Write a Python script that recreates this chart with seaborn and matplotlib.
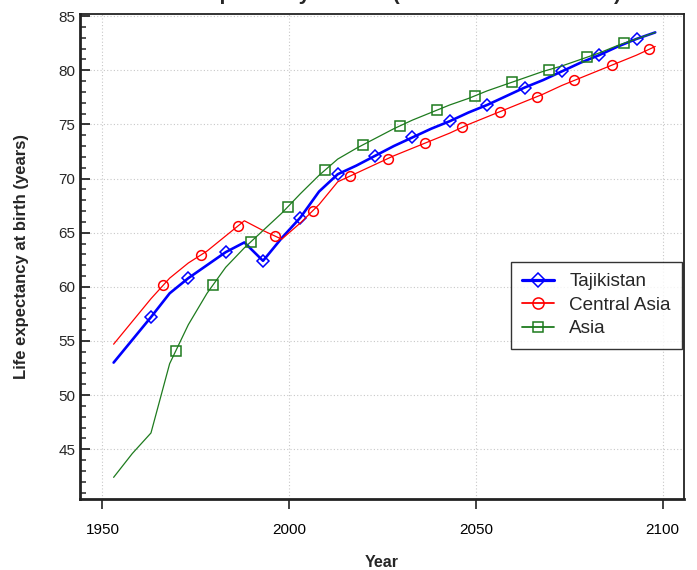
import numpy as np
import pandas as pd
import matplotlib
matplotlib.use("Agg")
import matplotlib.pyplot as plt
from matplotlib.lines import Line2D
from matplotlib.ticker import MultipleLocator
import seaborn as sns

# values, one point every 5 years
years = [1953, 1958, 1963, 1968, 1973, 1978, 1983, 1988, 1993, 1998,
         2003, 2008, 2013, 2018, 2023, 2028, 2033, 2038, 2043, 2048,
         2053, 2058, 2063, 2068, 2073, 2078, 2083, 2088, 2093, 2098]

tajikistan = [53.0, 55.1, 57.2, 59.4, 60.8, 62.0, 63.2, 64.1, 62.4, 64.5,
              66.4, 68.8, 70.4, 71.2, 72.1, 73.0, 73.8, 74.6, 75.3, 76.1,
              76.8, 77.6, 78.4, 79.1, 79.9, 80.7, 81.4, 82.2, 82.9, 83.5]

central_asia = [54.7, 56.8, 58.9, 60.8, 62.2, 63.3, 64.7, 66.1, 65.2, 64.4,
                65.9, 67.6, 69.7, 70.5, 71.3, 72.1, 72.8, 73.5, 74.2, 75.0,
                75.7, 76.4, 77.1, 77.8, 78.6, 79.3, 80.0, 80.7, 81.4, 82.2]

asia = [42.4, 44.6, 46.5, 52.9, 56.5, 59.4, 61.8, 63.6, 65.2, 66.8,
        68.6, 70.3, 71.8, 72.8, 73.7, 74.6, 75.4, 76.1, 76.8, 77.4,
        78.1, 78.7, 79.3, 79.9, 80.4, 81.0, 81.6, 82.3, 82.9, 83.5]

series_names = ["Tajikistan", "Central Asia", "Asia"]

df = pd.DataFrame({"Year": years, "Tajikistan": tajikistan,
                   "Central Asia": central_asia, "Asia": asia})

sns.set_theme(style="white")
plt.rcParams["font.family"] = ["Liberation Sans", "DejaVu Sans"]

fig = plt.figure(figsize=(6.97, 5.7), dpi=100)
ax = fig.add_axes([80 / 697, 1 - 499 / 570, 604 / 697, 485 / 570])

styles = {
    "Tajikistan": dict(color="#0000ff", lw=1.9, marker="D", ms=6.5, start=1963.0),
    "Central Asia": dict(color="#ff0000", lw=0.9, marker="o", ms=7, start=1966.33),
    "Asia": dict(color="#1e7b1e", lw=0.9, marker="s", ms=6.5, start=1969.67),
}

handles = []
for name in series_names:
    st = styles[name]
    sns.lineplot(data=df, x="Year", y=name, ax=ax, color=st["color"],
                 lw=st["lw"], legend=False)
    # open markers every 10 years along each line, staggered between series
    mx = np.arange(st["start"], years[-1], 10.0)
    my = np.interp(mx, df["Year"], df[name])
    ax.plot(mx, my, linestyle="none", marker=st["marker"], ms=st["ms"],
            mfc="none", mec=st["color"], mew=1.1)
    handles.append(Line2D([], [], color=st["color"], lw=st["lw"] + 0.4,
                          marker=st["marker"], ms=st["ms"] + 1, mfc="none",
                          mec=st["color"], mew=1.1))

ax.set_xlim(1944, 2105.7)
ax.set_ylim(40.4, 85.2)
ax.xaxis.set_major_locator(MultipleLocator(50))
ax.yaxis.set_major_locator(MultipleLocator(5))
ax.yaxis.set_minor_locator(MultipleLocator(1))

ax.grid(True, which="major", color="#c8c8c8", lw=0.8, linestyle=(0, (1, 2)))
ax.set_axisbelow(True)

ax.tick_params(axis="x", which="major", direction="out", length=7, width=1.3,
               labelsize=11, pad=10, bottom=True, colors="#333333",
               labelcolor="black")
ax.tick_params(axis="y", which="major", direction="in", length=7, width=1.3,
               labelsize=11, pad=3.5, left=True)
ax.tick_params(axis="y", which="minor", direction="in", length=4.5, width=1.1,
               left=True)

for side in ["top", "right"]:
    ax.spines[side].set_linewidth(1.3)
    ax.spines[side].set_color("#222222")
for side in ["left", "bottom"]:
    ax.spines[side].set_linewidth(2.0)
    ax.spines[side].set_color("#222222")

ax.set_xlabel("Year", fontsize=11.5, fontweight="bold", labelpad=13)
ax.set_ylabel("Life expectancy at birth (years)", fontsize=12,
              fontweight="bold", labelpad=21)

leg = ax.legend(handles, series_names, loc="upper right",
                bbox_to_anchor=(0.997, 0.489), fontsize=13.6, frameon=True,
                fancybox=False, edgecolor="black", handlelength=1.7,
                borderpad=0.6, labelspacing=0.33, handletextpad=0.8,
                borderaxespad=0)
leg.get_frame().set_linewidth(1.0)

# title sits above the canvas, only its descenders show, as in the reference
fig.text(387 / 697, 1 + 0.5 / 570, "Life expectancy at birth (both sexes combined)",
         ha="center", va="baseline", fontsize=15, fontweight="bold")

fig.savefig("out.png", dpi=100)
